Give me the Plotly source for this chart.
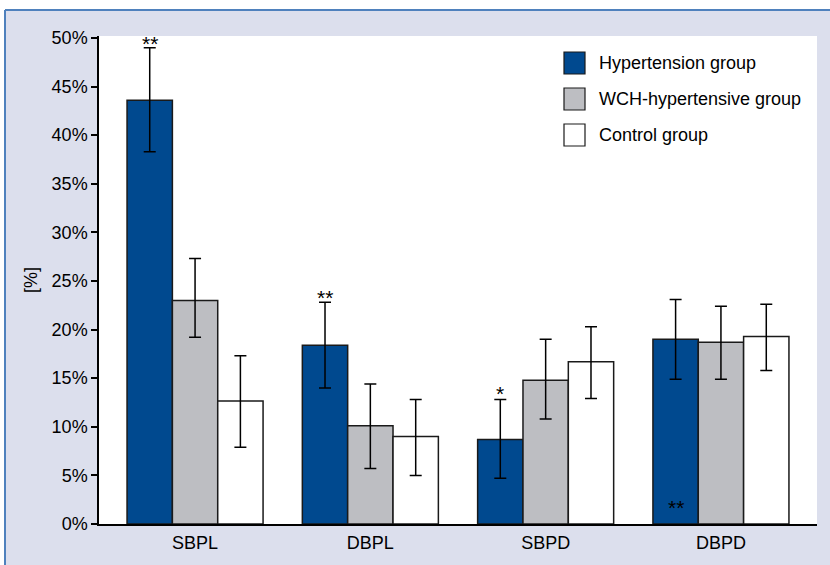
import plotly.graph_objects as go

categories = ["SBPL", "DBPL", "SBPD", "DBPD"]
series_names = ["Hypertension group", "WCH-hypertensive group", "Control group"]
hyp_values = [43.6, 18.4, 8.7, 19.0]
hyp_err_plus = [5.4, 4.4, 4.1, 4.1]
hyp_err_minus = [5.3, 4.4, 4.0, 4.1]
wch_values = [23.0, 10.1, 14.8, 18.7]
wch_err_plus = [4.3, 4.3, 4.2, 3.7]
wch_err_minus = [3.8, 4.4, 4.0, 3.8]
ctrl_values = [12.65, 9.0, 16.7, 19.3]
ctrl_err_plus = [4.65, 3.8, 3.6, 3.3]
ctrl_err_minus = [4.75, 4.0, 3.8, 3.5]
y_ticks = [0, 5, 10, 15, 20, 25, 30, 35, 40, 45, 50]
y_tick_labels = ["0%", "5%", "10%", "15%", "20%", "25%", "30%", "35%", "40%", "45%", "50%"]
# significance marks: (category index, label, y position of the mark)
sig_marks = [(0, "**", 49.6), (1, "**", 23.5), (2, "*", 13.6), (3, "**", 1.95)]

FONT = "Liberation Sans, Arial, sans-serif"
FS = 18
colors = ["#00498f", "#bdbec2", "#ffffff"]
LAV = "#dcdfed"
BLUE_LINE = "#4f81bd"

W, H = 830, 565
L, R, T, B = 99, 13, 36, 41
pw, ph = W - L - R, H - T - B


def px(xp):
    return (xp - L) / pw


def py(yp):
    return (H - B - yp) / ph


fig = go.Figure()
all_vals = [hyp_values, wch_values, ctrl_values]
all_plus = [hyp_err_plus, wch_err_plus, ctrl_err_plus]
all_minus = [hyp_err_minus, wch_err_minus, ctrl_err_minus]
for name, vals, ep, em, c in zip(series_names, all_vals, all_plus, all_minus, colors):
    fig.add_trace(go.Bar(
        x=categories, y=vals, name=name,
        marker=dict(color=c, line=dict(color="#1a1a1a", width=1.5)),
        error_y=dict(type="data", symmetric=False, array=ep, arrayminus=em,
                     color="black", thickness=1.5, width=6),
        showlegend=False,
    ))

bar_w = (1 - 0.224) / 3
for idx, label, yv in sig_marks:
    fig.add_annotation(x=idx - bar_w, y=yv, xref="x", yref="y", text=label,
                       showarrow=False, yanchor="middle", yshift=-2,
                       font=dict(family=FONT, size=21, color="black"))

shapes = []
# outer frame
shapes.append(dict(type="rect", xref="paper", yref="paper", x0=px(-10), x1=px(W + 10),
                   y0=py(9), y1=py(-10), fillcolor="white", line=dict(width=0), layer="below"))
shapes.append(dict(type="rect", xref="paper", yref="paper", x0=px(-10), x1=px(5),
                   y0=py(H + 10), y1=py(-10), fillcolor="white", line=dict(width=0), layer="below"))
shapes.append(dict(type="line", xref="paper", yref="paper", x0=px(5), x1=px(W + 10),
                   y0=py(10), y1=py(10), line=dict(color=BLUE_LINE, width=2), layer="below"))
shapes.append(dict(type="line", xref="paper", yref="paper", x0=px(5), x1=px(5),
                   y0=py(10), y1=py(H + 10), line=dict(color=BLUE_LINE, width=2), layer="below"))

# custom legend
leg_y = [63, 99, 135]
for name, c, yc in zip(series_names, colors, leg_y):
    shapes.append(dict(type="rect", xref="paper", yref="paper", x0=px(564), x1=px(585),
                       y0=py(yc + 11), y1=py(yc - 11), fillcolor=c,
                       line=dict(color="#1a1a1a", width=1.2)))
    fig.add_annotation(x=px(597), y=py(yc), xref="paper", yref="paper", text=name,
                       showarrow=False, xanchor="left", yanchor="middle",
                       font=dict(family=FONT, size=FS, color="black"))

fig.update_layout(
    width=W, height=H,
    margin=dict(l=L, r=R, t=T, b=B, pad=0),
    paper_bgcolor=LAV, plot_bgcolor="white",
    barmode="group", bargap=0.224, bargroupgap=0,
    font=dict(family=FONT, size=FS, color="black"),
    shapes=shapes,
    xaxis=dict(range=[-0.548, 3.548], showline=True, linecolor="black", linewidth=1.5,
               ticks="", showgrid=False, tickfont=dict(size=FS), ticklabelstandoff=2),
    yaxis=dict(range=[0, 50.2], tickvals=y_ticks, ticktext=y_tick_labels, showline=True,
               linecolor="black", linewidth=1.5, ticks="outside", ticklen=6,
               tickcolor="black", tickwidth=1.5, showgrid=False, zeroline=False,
               tickfont=dict(size=FS),
               title=dict(text="[%]", font=dict(size=FS), standoff=9)),
)

fig.write_html("out.html", config={"displayModeBar": False},
               post_script="document.body.style.margin='0px';")
